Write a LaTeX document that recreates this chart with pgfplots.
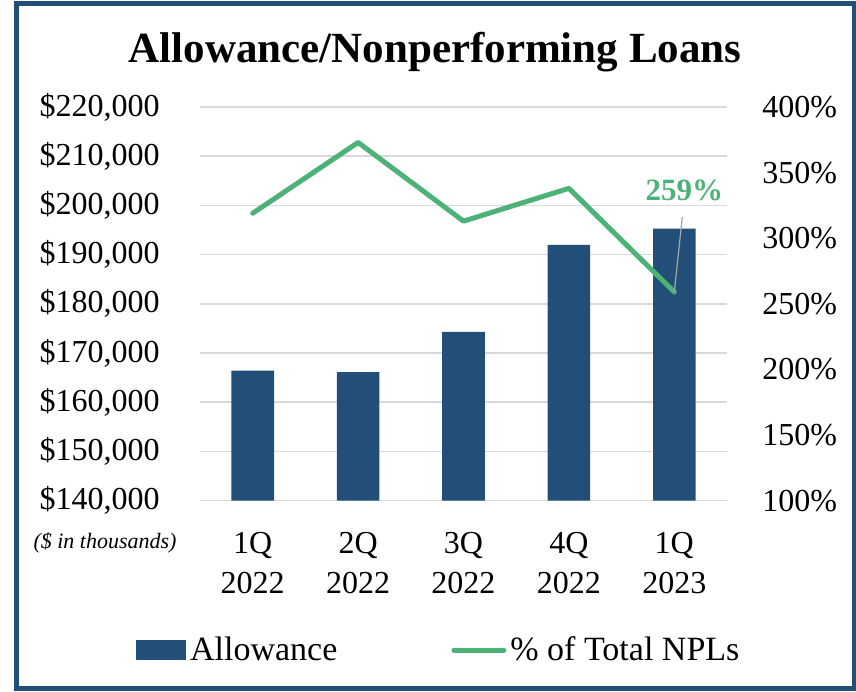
\documentclass[border=0pt]{standalone}
\usepackage{pgfplots}
\pgfplotsset{compat=1.18}
\usepackage{fontspec}
\setmainfont{Liberation Serif}
\definecolor{navy}{RGB}{33,79,120}
\definecolor{npl}{RGB}{77,178,120}
\definecolor{gridg}{RGB}{217,217,217}
\begin{document}
\begin{tikzpicture}
\useasboundingbox (0,0) rectangle (428pt,-345.5pt);
\draw[navy, line width=2.5pt] (8.25pt,-1.5pt) rectangle (427.25pt,-344pt);
\node[font=\fontsize{21.5}{25}\selectfont\bfseries, anchor=base] at (217.5pt,-31pt) {Allowance/Nonperforming Loans};
\node[font=\fontsize{11}{13}\selectfont\itshape] at (52.5pt,-271.5pt) {(\$ in thousands)};

\begin{axis}[
 at={(100pt,-250.3pt)}, anchor=south west,
 scale only axis, width=263.5pt, height=196.8pt,
 xmin=-0.5, xmax=4.5, ymin=140000, ymax=220000,
 scaled y ticks=false,
 axis line style={draw=none},
 major tick length=0pt,
 ytick={140000,150000,160000,170000,180000,190000,200000,210000,220000},
 yticklabels={{\$140,000},{\$150,000},{\$160,000},{\$170,000},{\$180,000},{\$190,000},{\$200,000},{\$210,000},{\$220,000}},
 ymajorgrids, grid style={gridg, line width=0.8pt},
 xtick={0,1,2,3,4},
 xticklabels={{1Q\\2022},{2Q\\2022},{3Q\\2022},{4Q\\2022},{1Q\\2023}},
 xticklabel style={align=center, font=\fontsize{16}{20}\selectfont, inner sep=0pt, anchor=north, yshift=-15.5pt},
 yticklabel style={font=\fontsize{16}{20}\selectfont, inner sep=0pt, anchor=east, xshift=-20pt},
 /pgf/number format/assume math mode=true,
 legend style={at={(0.455,-0.38)}, anchor=center, draw=none, fill=none,
   font=\fontsize{17}{20}\selectfont, legend columns=2,
   /tikz/every even column/.append style={column sep=55pt}},
]
\addplot[ybar, bar width=21.3pt, fill=navy, draw=none,
  legend image code/.code={\fill[navy] (0pt,-5pt) rectangle (25pt,5pt);}]
  coordinates {(0,166400) (1,166100) (2,174300) (3,192000) (4,195300)};
\addlegendentry{Allowance}
\addlegendimage{legend image code/.code={\draw[npl, line width=2.5pt, line cap=round] (0pt,0pt) -- (25pt,0pt);}}
\addlegendentry{\% of Total NPLs}
\end{axis}

\begin{axis}[
 at={(100pt,-250.3pt)}, anchor=south west,
 scale only axis, width=263.5pt, height=196.8pt,
 xmin=-0.5, xmax=4.5, ymin=100, ymax=400,
 axis y line*=right, axis x line=none,
 axis line style={draw=none},
 major tick length=0pt,
 ytick={100,150,200,250,300,350,400},
 yticklabels={100\%,150\%,200\%,250\%,300\%,350\%,400\%},
 yticklabel style={font=\fontsize{16}{20}\selectfont, inner sep=0pt, anchor=west, xshift=17.5pt},
 /pgf/number format/assume math mode=true,
]
\addplot[npl, line width=2.5pt, line join=round, line cap=round]
  coordinates {(0,319) (1,373) (2,313) (3,338) (4,259)};
\draw[gray!70, line width=0.6pt] (axis cs:4,259) -- ++(4pt,37.5pt);
\node[font=\fontsize{15.5}{18}\selectfont\bfseries, text=npl] at (axis cs:4,259) [xshift=5pt,yshift=51pt] {259\%};
\end{axis}
\end{tikzpicture}
\end{document}
